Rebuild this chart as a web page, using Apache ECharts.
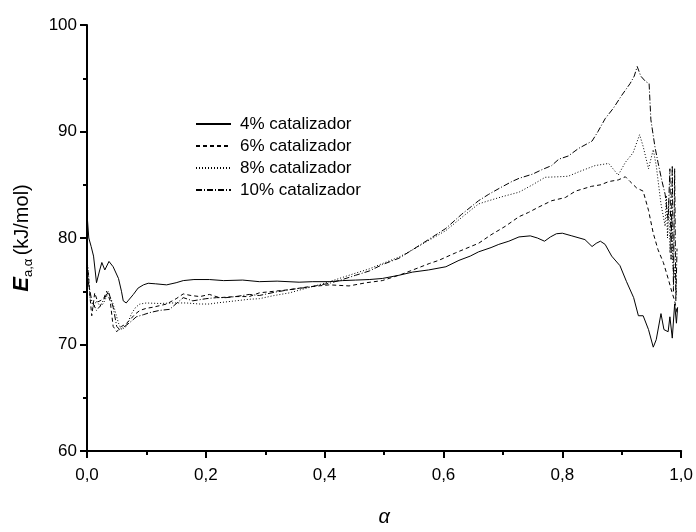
<!DOCTYPE html>
<html>
<head>
<meta charset="utf-8">
<script src="https://cdn.jsdelivr.net/npm/echarts@6/dist/echarts.min.js"></script>
<style>
  html, body { margin: 0; padding: 0; background: #fff; }
  #chart { width: 696px; height: 532px; }
</style>
</head>
<body>
<div id="chart"></div>
<script>
// Activation energy E(a,α) versus conversion α for four catalyst loadings
const seriesNames = ['4% catalizador', '6% catalizador', '8% catalizador', '10% catalizador'];

const xTickLabels = ['0,0', '0,2', '0,4', '0,6', '0,8', '1,0'];
const yTickLabels = ['60', '70', '80', '90', '100'];

const cat4 = [
  [0, 82.3], [0.003, 80.0], [0.007, 79.2], [0.011, 78.3], [0.016, 75.8], [0.021, 76.9], [0.025, 77.7],
  [0.03, 77.0], [0.037, 77.8], [0.044, 77.3], [0.053, 76.2], [0.058, 75.0], [0.061, 74.1], [0.066, 73.9],
  [0.069, 74.1], [0.078, 74.7], [0.086, 75.3], [0.095, 75.6], [0.103, 75.75], [0.115, 75.7], [0.134, 75.6],
  [0.15, 75.8], [0.162, 76.0], [0.18, 76.1], [0.206, 76.1], [0.23, 76.0], [0.262, 76.05], [0.29, 75.9],
  [0.32, 75.95], [0.357, 75.85], [0.38, 75.9], [0.408, 75.9], [0.43, 76.0], [0.452, 76.05], [0.475, 76.1],
  [0.497, 76.2], [0.525, 76.5], [0.548, 76.8], [0.575, 77.0], [0.604, 77.3], [0.626, 77.9], [0.645, 78.3],
  [0.659, 78.7], [0.68, 79.1], [0.693, 79.4], [0.71, 79.7], [0.727, 80.1], [0.746, 80.2], [0.758, 80.0],
  [0.77, 79.7], [0.78, 80.1], [0.79, 80.4], [0.8, 80.45], [0.816, 80.2], [0.838, 79.85], [0.85, 79.2],
  [0.857, 79.5], [0.864, 79.7], [0.872, 79.4], [0.883, 78.3], [0.897, 77.4], [0.908, 75.9], [0.92, 74.4],
  [0.928, 72.7], [0.936, 72.7], [0.945, 71.4], [0.953, 69.75], [0.958, 70.45], [0.966, 72.9], [0.971, 71.4],
  [0.978, 71.2], [0.981, 72.6], [0.985, 70.6], [0.989, 73.8], [0.992, 72.0], [0.994, 73.5]
];

const cat6 = [
  [0, 77.5], [0.002, 76.8], [0.005, 74.5], [0.008, 72.7], [0.013, 74.85], [0.018, 74.0], [0.022, 74.1],
  [0.028, 74.3], [0.033, 75.0], [0.039, 74.1], [0.044, 71.7], [0.05, 71.2], [0.058, 71.7], [0.065, 71.9],
  [0.072, 72.3], [0.08, 72.8], [0.089, 73.2], [0.1, 73.4], [0.111, 73.5], [0.134, 73.8], [0.15, 74.3],
  [0.162, 74.75], [0.175, 74.6], [0.19, 74.5], [0.206, 74.7], [0.223, 74.4], [0.25, 74.5], [0.273, 74.5],
  [0.29, 74.85], [0.315, 75.0], [0.341, 75.15], [0.37, 75.4], [0.408, 75.6], [0.441, 75.5], [0.47, 75.8],
  [0.497, 76.0], [0.53, 76.6], [0.576, 77.6], [0.592, 77.9], [0.62, 78.6], [0.648, 79.25], [0.659, 79.5],
  [0.68, 80.3], [0.704, 81.1], [0.727, 82.0], [0.743, 82.4], [0.76, 82.9], [0.782, 83.5], [0.805, 83.8],
  [0.822, 84.4], [0.849, 84.85], [0.865, 85.0], [0.878, 85.3], [0.894, 85.45], [0.906, 85.75], [0.914, 85.3],
  [0.925, 84.7], [0.936, 84.4], [0.945, 82.6], [0.953, 80.45], [0.961, 78.9], [0.97, 77.7], [0.978, 76.2],
  [0.984, 75.0], [0.989, 74.1], [0.993, 73.0]
];

const cat8 = [
  [0, 77.8], [0.002, 77.1], [0.005, 74.4], [0.011, 73.5], [0.016, 74.1], [0.022, 73.6], [0.027, 73.8],
  [0.036, 74.85], [0.044, 73.8], [0.053, 72.0], [0.058, 71.4], [0.066, 71.7], [0.075, 72.9], [0.082, 73.5],
  [0.089, 73.8], [0.1, 73.9], [0.122, 73.85], [0.145, 73.9], [0.167, 73.9], [0.19, 73.8], [0.206, 73.8],
  [0.218, 73.9], [0.25, 74.1], [0.273, 74.25], [0.29, 74.3], [0.315, 74.6], [0.341, 74.85], [0.37, 75.3],
  [0.39, 75.6], [0.408, 75.9], [0.43, 76.3], [0.452, 76.7], [0.475, 77.1], [0.497, 77.6], [0.525, 78.2],
  [0.548, 78.9], [0.576, 79.8], [0.604, 80.7], [0.63, 81.9], [0.659, 83.2], [0.676, 83.5], [0.7, 83.9],
  [0.727, 84.3], [0.75, 85.0], [0.771, 85.7], [0.794, 85.75], [0.81, 85.8], [0.827, 86.2], [0.855, 86.8],
  [0.878, 87.0], [0.894, 85.9], [0.906, 87.1], [0.919, 88.0], [0.93, 89.7], [0.936, 88.6], [0.945, 86.5],
  [0.953, 88.3], [0.958, 86.8], [0.966, 83.2], [0.973, 81.1], [0.975, 84.0], [0.977, 80.0], [0.979, 83.5],
  [0.981, 78.6], [0.984, 82.0], [0.986, 77.5], [0.988, 76.2], [0.99, 77.5], [0.992, 74.7]
];

const cat10 = [
  [0, 78.0], [0.002, 75.9], [0.008, 74.1], [0.016, 73.2], [0.022, 73.6], [0.027, 74.1], [0.036, 75.0],
  [0.044, 73.5], [0.05, 71.7], [0.055, 71.4], [0.066, 71.8], [0.075, 72.2], [0.083, 72.6], [0.095, 72.8],
  [0.106, 73.0], [0.122, 73.2], [0.139, 73.3], [0.162, 74.4], [0.178, 74.1], [0.2, 74.3], [0.218, 74.4],
  [0.234, 74.4], [0.25, 74.5], [0.273, 74.7], [0.29, 74.6], [0.315, 74.9], [0.341, 75.15], [0.375, 75.4],
  [0.408, 75.75], [0.43, 76.1], [0.452, 76.5], [0.475, 76.9], [0.497, 77.5], [0.525, 78.1], [0.548, 78.9],
  [0.576, 79.9], [0.604, 80.9], [0.63, 82.2], [0.659, 83.5], [0.676, 84.1], [0.695, 84.7], [0.715, 85.3],
  [0.727, 85.6], [0.75, 86.0], [0.765, 86.4], [0.782, 86.8], [0.794, 87.4], [0.81, 87.7], [0.827, 88.4],
  [0.85, 89.1], [0.86, 90.0], [0.872, 91.2], [0.886, 92.2], [0.9, 93.4], [0.914, 94.5], [0.921, 95.2],
  [0.926, 96.1], [0.932, 95.2], [0.94, 94.7], [0.946, 94.5], [0.949, 91.1], [0.956, 88.5], [0.961, 87.1],
  [0.967, 85.5], [0.973, 84.1], [0.978, 81.7], [0.981, 86.5], [0.983, 78.0], [0.985, 86.8], [0.987, 75.0],
  [0.989, 86.5], [0.991, 74.1], [0.993, 79.0]
];

const seriesData = [cat4, cat6, cat8, cat10];
const dashPatterns = ['solid', [4, 3], [1, 2], [6, 2, 1, 2]];

const FONT = 'Liberation Sans, Arial, sans-serif';
const chart = echarts.init(document.getElementById('chart'), null, { renderer: 'canvas' });

const axisCommon = {
  axisLine: { show: true, onZero: false, lineStyle: { color: '#000', width: 2 } },
  axisTick: { show: true, inside: false, length: 7, lineStyle: { color: '#000', width: 2 } },
  minorTick: { show: true, splitNumber: 2, length: 4, lineStyle: { color: '#000', width: 2 } },
  splitLine: { show: false },
  minorSplitLine: { show: false }
};

chart.setOption({
  animation: false,
  backgroundColor: '#fff',
  grid: { left: 87, right: 13, top: 25, bottom: 66, containLabel: false },
  legend: {
    show: true,
    orient: 'vertical',
    left: 195,
    top: 114,
    padding: 0,
    itemWidth: 35,
    itemHeight: 12,
    itemGap: 2,
    selectedMode: false,
    itemStyle: { color: 'rgba(0,0,0,0)', borderWidth: 0, opacity: 0 },
    textStyle: { fontFamily: FONT, fontSize: 17, lineHeight: 20, color: '#000', padding: [0, 0, 0, 4] },
    data: seriesNames
  },
  xAxis: Object.assign({}, axisCommon, {
    type: 'value',
    min: 0,
    max: 1,
    interval: 0.2,
    name: 'α',
    nameLocation: 'middle',
    nameGap: 56,
    nameTextStyle: { fontFamily: FONT, fontSize: 20, fontStyle: 'italic', color: '#000' },
    axisLabel: {
      margin: 16,
      fontFamily: FONT,
      fontSize: 17,
      color: '#000',
      formatter: v => xTickLabels[Math.round(v / 0.2)]
    }
  }),
  yAxis: Object.assign({}, axisCommon, {
    type: 'value',
    min: 60,
    max: 100,
    interval: 10,
    name: '{e|E}{sub|a,α} {u|(kJ/mol)}',
    nameLocation: 'middle',
    nameRotate: 90,
    nameGap: 52,
    nameTextStyle: {
      fontFamily: FONT,
      color: '#000',
      rich: {
        e: { fontFamily: FONT, fontSize: 22, fontWeight: 'bold', fontStyle: 'italic', color: '#000', lineHeight: 26, verticalAlign: 'middle' },
        sub: { fontFamily: FONT, fontSize: 13, color: '#000', lineHeight: 26, verticalAlign: 'bottom' },
        u: { fontFamily: FONT, fontSize: 20, color: '#000', lineHeight: 26, verticalAlign: 'middle' }
      }
    },
    axisLabel: {
      margin: 10,
      fontFamily: FONT,
      fontSize: 17,
      color: '#000',
      formatter: v => yTickLabels[Math.round((v - 60) / 10)]
    }
  }),
  series: seriesNames.map((name, i) => ({
    name: name,
    type: 'line',
    data: seriesData[i],
    showSymbol: false,
    symbol: 'none',
    smooth: false,
    lineStyle: { color: '#000', width: 1, type: dashPatterns[i] },
    itemStyle: { color: '#000' },
    emphasis: { disabled: true }
  }))
});
</script>
</body>
</html>
